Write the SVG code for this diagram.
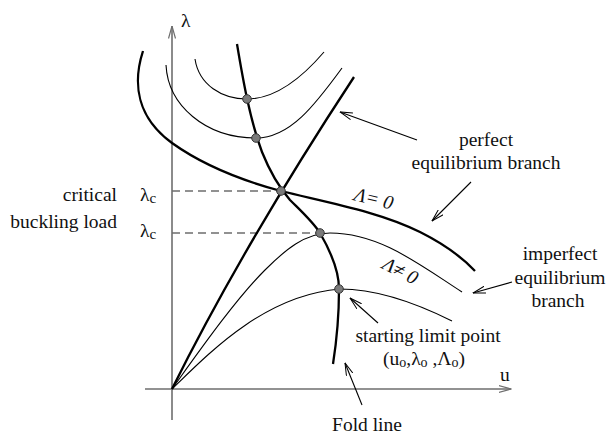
<svg xmlns="http://www.w3.org/2000/svg" width="606" height="434" viewBox="0 0 606 434">
<defs>
<style>
.t{font-family:"Liberation Serif","Times New Roman",serif;font-size:19.5px;fill:#111}
.it{font-style:italic}
.thick{fill:none;stroke:#000;stroke-width:2.3}
.thin{fill:none;stroke:#000;stroke-width:1.1}
.axis{fill:none;stroke:#6e6e6e;stroke-width:1.6}
.dash{fill:none;stroke:#6e6e6e;stroke-width:1.3;stroke-dasharray:8,5}
.pt{fill:#7a7a7a;stroke:#333;stroke-width:1}
.ann{fill:none;stroke:#000;stroke-width:1.1}
</style>
<marker id="ah" viewBox="0 0 13 8" refX="12.5" refY="4" markerWidth="13" markerHeight="8" markerUnits="userSpaceOnUse" orient="auto">
<path d="M0,0.5 L12.5,4 L0,7.5" fill="none" stroke="#000" stroke-width="1"/>
</marker>
<marker id="ahg" viewBox="0 0 13 8" refX="12.5" refY="4" markerWidth="13" markerHeight="8" markerUnits="userSpaceOnUse" orient="auto">
<path d="M0,0.5 L12.5,4 L0,7.5" fill="none" stroke="#6e6e6e" stroke-width="1.2"/>
</marker>
</defs>
<rect width="606" height="434" fill="#fff"/>

<g id="axes">
<line class="axis" x1="172" y1="420" x2="172" y2="26" marker-end="url(#ahg)"/>
<line class="axis" x1="145" y1="389" x2="511" y2="389" marker-end="url(#ahg)"/>
<text class="t" x="181" y="27" font-size="20">λ</text>
<text class="t" x="500" y="381">u</text>
</g>

<g id="connectors">
<line class="dash" x1="172" y1="191" x2="281" y2="191"/>
<line class="dash" x1="172" y1="233" x2="320" y2="233"/>
<path id="trivial-branch" class="thick" d="M172,389 Q243,246 354,77"/>
<path id="perfect-branch" class="thick" d="M143,51 C132,85 138,118 172,143 C200,163 240,180 281,191 C330,203 380,212 420,232 C440,242 460,255 475,271"/>
<path id="fold-line" class="thick" d="M237,44 C243,80 250,120 262,152 C270,172 278,186 290,200 C303,213 313,222 320,233 C331,252 339,272 339,289 C339,320 336,345 333,364"/>
<path class="thin" d="M195,59 C199,85 222,99 247,99 C275,99 300,80 324,52"/>
<path class="thin" d="M166,65 C168,105 205,138 256,138 C290,138 315,105 342,68"/>
<path class="thin" d="M172,389 C200,350 235,300 265,270 C285,250 305,233 330,233 C380,233 420,265 462,292"/>
<path class="thin" d="M172,389 C210,352 265,295 340,289 C380,289 420,305 452,321"/>
<line class="ann" x1="417" y1="140" x2="340" y2="112" marker-end="url(#ah)"/>
<line class="ann" x1="471" y1="182" x2="432" y2="221" marker-end="url(#ah)"/>
<line class="ann" x1="512" y1="282" x2="473" y2="293" marker-end="url(#ah)"/>
<line class="ann" x1="378" y1="323" x2="350" y2="298" marker-end="url(#ah)"/>
<line class="ann" x1="362" y1="405" x2="345" y2="363" marker-end="url(#ah)"/>
</g>

<g id="point-1"><circle class="pt" cx="247" cy="99" r="4.3"/></g>
<g id="point-2"><circle class="pt" cx="256" cy="138" r="4.3"/></g>
<g id="point-bifurcation"><circle class="pt" cx="281" cy="191" r="4.3"/></g>
<g id="point-3"><circle class="pt" cx="320" cy="233" r="4.3"/></g>
<g id="point-start"><circle class="pt" cx="339" cy="289" r="4.3"/></g>

<g id="label-critical">
<text class="t" x="117" y="201" text-anchor="end">critical</text>
<text class="t" x="117" y="228" text-anchor="end">buckling load</text>
<text class="t" x="140" y="201" font-size="20">λ<tspan font-size="15" dy="2">c</tspan></text>
<text class="t" x="140" y="237" font-size="20">λ<tspan font-size="15" dy="2">c</tspan></text>
</g>

<g id="label-perfect">
<text class="t" x="486" y="146" text-anchor="middle">perfect</text>
<text class="t" x="486" y="169" text-anchor="middle">equilibrium branch</text>
<text class="t it" transform="translate(353,200) rotate(14)">Λ= 0</text>
</g>

<g id="label-imperfect">
<text class="t" x="560" y="260" text-anchor="middle">imperfect</text>
<text class="t" x="560" y="284" text-anchor="middle">equilibrium</text>
<text class="t" x="558" y="307" text-anchor="middle">branch</text>
<text class="t it" transform="translate(381,268) rotate(27)">Λ≠ 0</text>
</g>

<g id="label-limit">
<text class="t" x="428" y="342" text-anchor="middle">starting limit point</text>
<text class="t" x="424" y="365" text-anchor="middle">(u<tspan font-size="14" dy="2">o</tspan><tspan dy="-2">,λ</tspan><tspan font-size="14" dy="2">o</tspan><tspan dy="-2"> ,Λ</tspan><tspan font-size="14" dy="2">o</tspan><tspan dy="-2">)</tspan></text>
</g>

<g id="label-fold">
<text class="t" x="367" y="431" text-anchor="middle">Fold line</text>
</g>
</svg>
